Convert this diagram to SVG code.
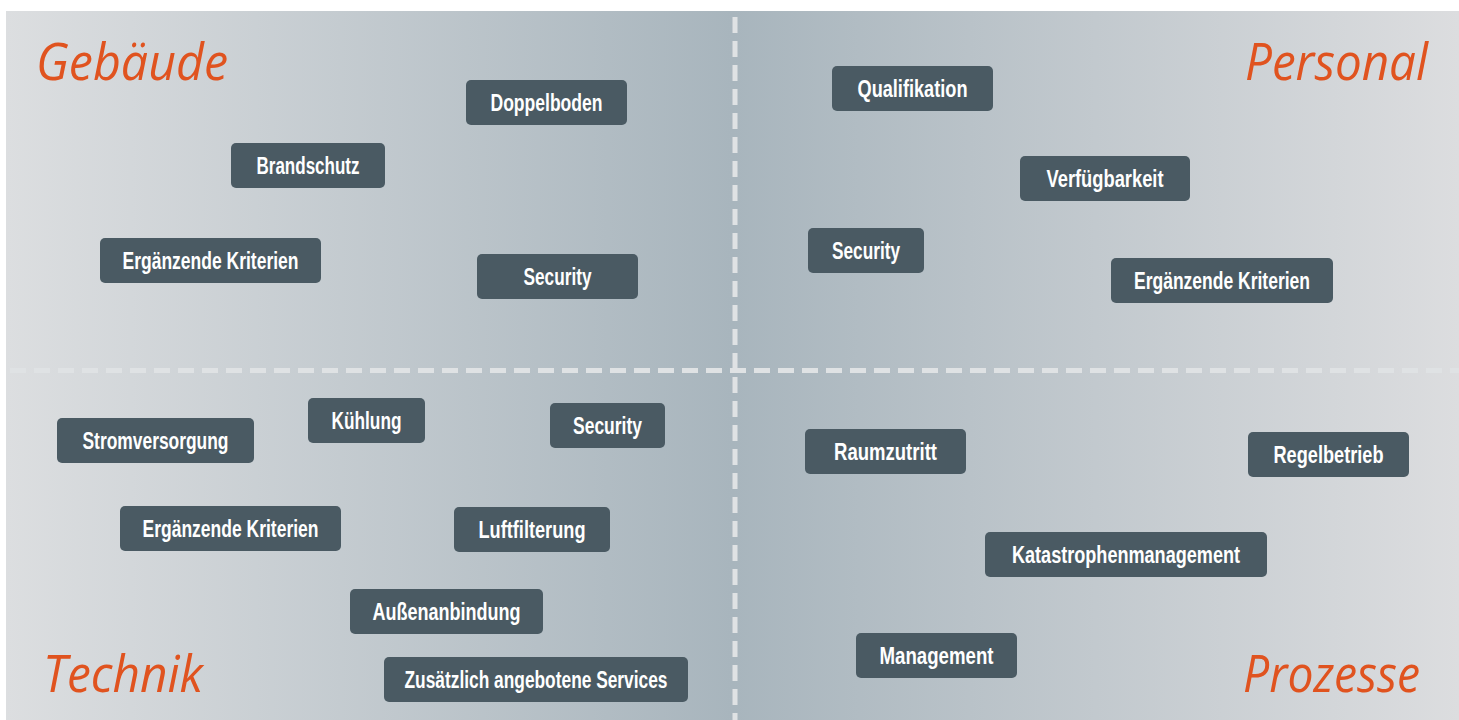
<svg xmlns="http://www.w3.org/2000/svg" width="1459" height="720" viewBox="0 0 1459 720">
<defs>
<linearGradient id="bg" x1="0" y1="0" x2="1" y2="0">
<stop offset="0" stop-color="#dcdee0"/>
<stop offset="0.5" stop-color="#a8b5bd"/>
<stop offset="1" stop-color="#dcdddf"/>
</linearGradient>
<style>
.box{fill:#4a5a63}
.lbl{font-family:"Liberation Sans",Arial,sans-serif;font-weight:bold;font-size:23px;fill:#ffffff;text-anchor:middle}
.ttl{font-family:"Open Sans","Noto Sans",sans-serif;font-style:italic;font-size:52px;fill:#e0531f}
.div{stroke:#dfe2e4;stroke-width:5;stroke-dasharray:16 8;fill:none}
</style>
</defs>
<rect x="0" y="0" width="1459" height="720" fill="#ffffff"/>
<rect x="6" y="11" width="1453" height="709" fill="url(#bg)"/>
<g id="connectors">
<line class="div" x1="10" y1="370.5" x2="1459" y2="370.5"/>
<line class="div" x1="735" y1="17" x2="735" y2="720"/>
</g>
<g id="titles">
<text class="ttl" x="36" y="80" textLength="192" lengthAdjust="spacingAndGlyphs">Gebäude</text>
<text class="ttl" x="1245" y="80" textLength="183" lengthAdjust="spacingAndGlyphs">Personal</text>
<text class="ttl" x="43" y="692" textLength="160" lengthAdjust="spacingAndGlyphs">Technik</text>
<text class="ttl" x="1243" y="692" textLength="177" lengthAdjust="spacingAndGlyphs">Prozesse</text>
</g>
<g id="n-doppelboden"><rect class="box" x="466" y="80" width="161" height="45" rx="5"/><text class="lbl" x="546.5" y="111" textLength="112" lengthAdjust="spacingAndGlyphs">Doppelboden</text></g>
<g id="n-brandschutz"><rect class="box" x="231" y="143" width="154" height="45" rx="5"/><text class="lbl" x="308" y="174" textLength="103" lengthAdjust="spacingAndGlyphs">Brandschutz</text></g>
<g id="n-erg-gebaeude"><rect class="box" x="100" y="238" width="221" height="45" rx="5"/><text class="lbl" x="210.5" y="269" textLength="176" lengthAdjust="spacingAndGlyphs">Ergänzende Kriterien</text></g>
<g id="n-security-gebaeude"><rect class="box" x="477" y="254" width="161" height="45" rx="5"/><text class="lbl" x="557.5" y="285" textLength="68" lengthAdjust="spacingAndGlyphs">Security</text></g>
<g id="n-qualifikation"><rect class="box" x="832" y="66" width="161" height="45" rx="5"/><text class="lbl" x="912.5" y="97" textLength="110" lengthAdjust="spacingAndGlyphs">Qualifikation</text></g>
<g id="n-verfuegbarkeit"><rect class="box" x="1020" y="156" width="170" height="45" rx="5"/><text class="lbl" x="1105" y="187" textLength="117" lengthAdjust="spacingAndGlyphs">Verfügbarkeit</text></g>
<g id="n-security-personal"><rect class="box" x="808" y="228" width="116" height="45" rx="5"/><text class="lbl" x="866" y="259" textLength="68" lengthAdjust="spacingAndGlyphs">Security</text></g>
<g id="n-erg-personal"><rect class="box" x="1111" y="258" width="222" height="45" rx="5"/><text class="lbl" x="1222" y="289" textLength="176" lengthAdjust="spacingAndGlyphs">Ergänzende Kriterien</text></g>
<g id="n-stromversorgung"><rect class="box" x="57" y="418" width="197" height="45" rx="5"/><text class="lbl" x="155.5" y="449" textLength="146" lengthAdjust="spacingAndGlyphs">Stromversorgung</text></g>
<g id="n-kuehlung"><rect class="box" x="308" y="398" width="117" height="45" rx="5"/><text class="lbl" x="366.5" y="429" textLength="70" lengthAdjust="spacingAndGlyphs">Kühlung</text></g>
<g id="n-security-technik"><rect class="box" x="550" y="403" width="115" height="45" rx="5"/><text class="lbl" x="607.5" y="434" textLength="69" lengthAdjust="spacingAndGlyphs">Security</text></g>
<g id="n-erg-technik"><rect class="box" x="120" y="506" width="221" height="45" rx="5"/><text class="lbl" x="230.5" y="537" textLength="176" lengthAdjust="spacingAndGlyphs">Ergänzende Kriterien</text></g>
<g id="n-luftfilterung"><rect class="box" x="454" y="507" width="156" height="45" rx="5"/><text class="lbl" x="532" y="538" textLength="107" lengthAdjust="spacingAndGlyphs">Luftfilterung</text></g>
<g id="n-aussenanbindung"><rect class="box" x="350" y="589" width="193" height="45" rx="5"/><text class="lbl" x="446.5" y="620" textLength="148" lengthAdjust="spacingAndGlyphs">Außenanbindung</text></g>
<g id="n-services"><rect class="box" x="384" y="657" width="304" height="45" rx="5"/><text class="lbl" x="536" y="688" textLength="263" lengthAdjust="spacingAndGlyphs">Zusätzlich angebotene Services</text></g>
<g id="n-raumzutritt"><rect class="box" x="805" y="429" width="161" height="45" rx="5"/><text class="lbl" x="885.5" y="460" textLength="103" lengthAdjust="spacingAndGlyphs">Raumzutritt</text></g>
<g id="n-regelbetrieb"><rect class="box" x="1248" y="432" width="161" height="45" rx="5"/><text class="lbl" x="1328.5" y="463" textLength="110" lengthAdjust="spacingAndGlyphs">Regelbetrieb</text></g>
<g id="n-katastrophenmanagement"><rect class="box" x="985" y="532" width="282" height="45" rx="5"/><text class="lbl" x="1126" y="563" textLength="228" lengthAdjust="spacingAndGlyphs">Katastrophenmanagement</text></g>
<g id="n-management"><rect class="box" x="856" y="633" width="161" height="45" rx="5"/><text class="lbl" x="936.5" y="664" textLength="114" lengthAdjust="spacingAndGlyphs">Management</text></g>
</svg>
